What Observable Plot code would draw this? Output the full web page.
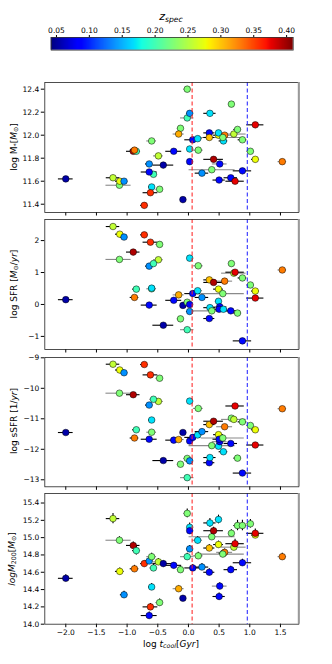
<!DOCTYPE html>
<html><head><meta charset="utf-8">
<script src="https://cdn.jsdelivr.net/npm/d3@7"></script>
<script src="https://cdn.jsdelivr.net/npm/@observablehq/plot@0.6"></script>
<style>
body{margin:0;background:#fff;font-family:"DejaVu Sans",sans-serif;}
#wrap{position:relative;width:332px;height:664px;overflow:hidden;background:#fff;}
#wrap svg{position:absolute;left:0;}
.lbl{position:absolute;font-size:9px;white-space:nowrap;color:#000;line-height:1;}
.lbl sub{font-size:0.7em;vertical-align:-0.3em;line-height:0;}
.rot{transform:translate(-50%,-50%) rotate(-90deg);}
.ctr{transform:translate(-50%,-50%);}
</style></head><body><div id="wrap"></div>
<script>
// ---- data (one entry per cluster) ----
const tcool = [-2.00,-1.23,-1.125,-1.12,-1.05,-0.90,-0.85,-0.88,-0.72,-0.64,-0.60,-0.49,-0.57,-0.41,-0.60,-0.62,-0.64,-0.47,
  -0.24,-0.13,-0.16,-0.09,-0.02,-0.02,0.02,0.02,0.02,0.07,0.15,0.16,0.22,0.34,0.34,0.35,0.38,0.41,0.49,0.49,0.51,0.50,
  0.57,0.59,0.56,0.69,0.70,0.74,0.76,0.80,0.88,0.88,1.01,1.09,1.09,1.53];
const zspec = [0.055,0.257,0.228,0.277,0.14,0.395,0.20,0.329,0.359,0.14,0.228,0.257,0.20,0.055,0.169,0.359,0.09,0.228,
  0.09,0.228,0.31,0.055,0.228,0.20,0.169,0.09,0.14,0.09,0.169,0.228,0.14,0.09,0.302,0.169,0.228,0.395,0.277,0.169,0.09,0.09,
  0.169,0.329,0.228,0.09,0.228,0.257,0.377,0.228,0.228,0.09,0.228,0.277,0.377,0.329];
const tcoolErrLo = [0.12,0.11,0.22,0.07,0.06,0.11,0.06,0.07,0.06,0.06,0.08,0.08,0.06,0.17,0.05,0.12,0.13,0.06,
  0.13,0.05,0.09,0.03,0.05,0.11,0.03,0.03,0.05,0.13,0.08,0.08,0.11,0.09,0.09,0.10,0.37,0.16,0.08,0.05,0.12,0.10,
  0.07,0.13,0.35,0.11,0.04,0.20,0.15,0.06,0.07,0.15,0.06,0.06,0.14,0.07];
const tcoolErrHi = [0.12,0.11,0.19,0.07,0.06,0.11,0.06,0.07,0.06,0.06,0.08,0.08,0.06,0.17,0.05,0.12,0.13,0.06,
  0.13,0.05,0.09,0.03,0.05,0.11,0.03,0.03,0.05,0.13,0.08,0.08,0.11,0.09,0.09,0.10,0.38,0.16,0.08,0.05,0.12,0.10,
  0.07,0.13,0.35,0.11,0.04,0.20,0.15,0.06,0.07,0.15,0.06,0.06,0.14,0.07];
const errGray = [0,0,1,0,0,0,0,0,0,0,1,1,1,0,0,0,0,1,
  0,0,1,0,0,1,0,0,0,0,1,1,0,0,0,0,1,0,0,0,1,0,
  0,1,1,0,0,1,0,0,0,0,1,0,0,1];
const logMstar = [11.62,11.63,11.565,11.60,11.60,11.86,11.86,11.87,11.39,11.75,11.95,11.82,11.66,11.74,11.55,11.50,11.68,11.53,
  11.86,12.06,12.01,11.44,12.40,12.15,11.88,11.77,12.19,11.96,11.97,11.87,11.67,12.02,11.98,12.19,11.70,11.79,12.00,12.02,11.75,11.61,
  11.95,12.00,11.98,11.63,12.27,12.01,11.60,12.05,11.96,11.69,11.86,11.79,12.09,11.77];
const logSFR = [0.15,2.44,1.41,2.20,2.11,1.64,0.48,0.22,2.18,1.20,0.49,1.40,1.28,-0.65,0.51,1.95,-0.02,1.88,
  0.13,-0.45,0.30,-0.03,0.07,-0.79,1.45,0.00,-0.22,0.34,0.43,1.21,0.22,-0.44,0.77,-0.10,-0.20,0.69,0.48,0.10,-0.07,-0.15,
  -0.15,0.73,0.34,-0.20,1.28,0.98,1.01,-0.27,0.83,-1.14,0.61,0.42,0.20,1.08];
const logsSFR = [-11.45,-9.21,-10.16,-9.40,-9.49,-10.21,-11.36,-11.63,-9.22,-10.55,-11.44,-10.43,-10.36,-12.37,-11.04,-9.56,-11.67,-9.67,
  -11.70,-12.49,-11.68,-11.45,-12.30,-12.93,-10.42,-11.73,-12.38,-11.61,-11.53,-10.66,-11.42,-12.44,-11.19,-12.27,-11.88,-11.08,-11.52,-11.90,-11.75,-11.67,
  -12.08,-11.26,-11.63,-11.81,-10.98,-11.02,-10.58,-12.29,-11.10,-12.78,-11.22,-11.36,-11.86,-10.67];
const logM200 = [14.53,15.22,14.97,14.61,14.34,14.91,14.85,14.64,14.70,14.73,14.78,14.72,14.65,14.70,14.43,14.20,14.10,14.25,
  14.68,14.63,14.41,14.30,15.28,14.78,15.12,15.08,14.87,14.65,14.97,14.79,14.66,14.60,14.88,15.17,15.01,15.08,14.92,15.21,14.44,14.32,
  14.82,14.83,14.81,14.63,15.05,14.89,14.93,15.14,15.14,14.71,15.16,15.03,15.05,14.78];
const logM200Err = [0.04,0.06,0.04,0.04,0.04,0.04,0.05,0.04,0.03,0.04,0.04,0.04,0.04,0.03,0.04,0.04,0.04,0.04,
  0.03,0.04,0.03,0.03,0.05,0.04,0.05,0.04,0.04,0.04,0.04,0.04,0.04,0.04,0.04,0.05,0.04,0.04,0.04,0.05,0.04,0.04,
  0.04,0.04,0.04,0.04,0.04,0.04,0.05,0.06,0.06,0.04,0.05,0.04,0.05,0.04];
const cuts = [0.06, 0.96];           // red, blue dashed lines (log t_cool)
const xTicks = [-2.0,-1.5,-1.0,-0.5,0.0,0.5,1.0,1.5];
const mstarTicks = [11.4,11.6,11.8,12.0,12.2,12.4];
const sfrTicks = [-1,0,1,2];
const ssfrTicks = [-13,-12,-11,-10,-9];
const m200Ticks = [14.0,14.2,14.4,14.6,14.8,15.0,15.2,15.4];
const zTicks = [0.05,0.10,0.15,0.20,0.25,0.30,0.35,0.40];

const xDomain = [-2.342, 1.799];
const zDomain = [0.042, 0.41];

function jet(t){
  t = Math.max(0, Math.min(1, t));
  const seg = (p) => { for (let i=1;i<p.length;i++) if (t<=p[i][0]) { const a=p[i-1], b=p[i]; return a[1]+(b[1]-a[1])*(t-a[0])/(b[0]-a[0]); } return p[p.length-1][1]; };
  const r = seg([[0,0],[0.35,0],[0.66,1],[0.89,1],[1,0.5]]);
  const g = seg([[0,0],[0.125,0],[0.375,1],[0.64,1],[0.91,0],[1,0]]);
  const b = seg([[0,0.5],[0.11,1],[0.34,1],[0.65,0],[1,0]]);
  return `rgb(${Math.round(r*255)},${Math.round(g*255)},${Math.round(b*255)})`;
}
const colorOpt = {type:"linear", domain: zDomain, interpolate: jet};
const wrap = document.getElementById("wrap");
const fmt1 = d3.format(".1f");

function panel(yVals, yDomain, yTicks, yFmt, frameTop, frameH, bottom, yErr){
  const mt = 6, mb = bottom ? 40 : 6;
  const data = tcool.map((x,i) => ({x, z: zspec[i], lo: tcoolErrLo[i], hi: tcoolErrHi[i], g: errGray[i], y: yVals[i], e: yErr ? yErr[i] : 0}));
  const marks = [
    Plot.ruleY(data.filter(d=>d.g), {y:"y", x1: d=>d.x-d.lo, x2: d=>d.x+d.hi, stroke:"#8a8a8a", strokeWidth:1.1}),
    Plot.ruleY(data.filter(d=>!d.g), {y:"y", x1: d=>d.x-d.lo, x2: d=>d.x+d.hi, stroke:"#000", strokeWidth:1.1})
  ];
  if (yErr) marks.push(Plot.ruleX(data, {x:"x", y1: d=>d.y-d.e, y2: d=>d.y+d.e, stroke:"#000", strokeWidth:1.1}));
  marks.push(Plot.dot(data, {x:"x", y:"y", fill:"z", r:3.3, stroke:"#000", strokeWidth:0.5}));
  marks.push(Plot.ruleX([cuts[0]], {stroke:"#ff2020", strokeOpacity:0.85, strokeWidth:1.2, strokeDasharray:"4,2.5"}));
  marks.push(Plot.ruleX([cuts[1]], {stroke:"#2020ff", strokeOpacity:0.85, strokeWidth:1.2, strokeDasharray:"4,2.5"}));
  marks.push(Plot.frame({stroke:"#222", strokeWidth:0.8}));
  marks.push(Plot.ruleX([xDomain[1]], {stroke:"#9a9a9a", strokeWidth:2}));
  const svg = Plot.plot({
    width: 332, height: mt + frameH + mb,
    marginTop: mt, marginBottom: mb, marginLeft: 44.3, marginRight: 33.7,
    x: {domain: xDomain, ticks: xTicks, tickFormat: bottom ? fmt1 : () => "", tickSize: 3.5, tickPadding: 2, label: null},
    y: {domain: yDomain, ticks: yTicks, tickFormat: yFmt, tickSize: 3.5, tickPadding: 2, label: null},
    color: colorOpt,
    style: {fontSize: "7.5px", fontFamily: "DejaVu Sans", background: "transparent", overflow: "visible"},
    marks
  });
  svg.style.top = (frameTop - mt) + "px";
  wrap.appendChild(svg);
}

panel(logMstar, [11.328, 12.458], mstarTicks, fmt1, 82.3, 130, false);
panel(logSFR, [-1.41, 2.66], sfrTicks, d3.format("d"), 219, 130, false);
panel(logsSFR, [-13.23, -8.99], ssfrTicks, d3.format("d"), 356.7, 129.3, false);
panel(logM200, [14.0, 15.51], m200Ticks, fmt1, 493.3, 130.7, true, logM200Err);

// colorbar
const nStep = 240, step = (zDomain[1]-zDomain[0])/nStep;
const cells = d3.range(nStep).map(i => zDomain[0] + i*step);
const cb = Plot.plot({
  width: 332, height: 34, marginTop: 20, marginBottom: 1.4, marginLeft: 50.7, marginRight: 39.3,
  x: {domain: zDomain, axis: "top", ticks: zTicks, tickFormat: d3.format(".2f"), tickSize: 3, tickPadding: 1.5, label: null},
  y: {domain: [0,1], axis: null},
  color: colorOpt,
  style: {fontSize: "7.5px", fontFamily: "DejaVu Sans", background: "transparent", overflow: "visible"},
  marks: [
    Plot.rect(cells, {x1: d=>d, x2: d=>Math.min(d+1.6*step, zDomain[1]), y1: 0, y2: 1, fill: d=>d+step/2}),
    Plot.frame({stroke:"#333", strokeWidth:0.8})
  ]
});
cb.style.top = (36.7 - 20) + "px";
wrap.appendChild(cb);

// text labels
function label(html, x, y, cls, size){
  const s = document.createElement("span");
  s.className = "lbl " + cls;
  s.innerHTML = html;
  s.style.left = x + "px"; s.style.top = y + "px";
  if (size) s.style.fontSize = size + "px";
  wrap.appendChild(s);
}
label("<i>z</i><sub><i>spec</i></sub>", 171, 16, "ctr", 11);
label("log M<sub>*</sub>[<i>M</i><sub>⊙</sub>]", 14, 147.3, "rot");
label("log SFR [<i>M</i><sub>⊙</sub>/<i>yr</i>]", 14, 284, "rot");
label("log sSFR [1/<i>yr</i>]", 14, 421.3, "rot");
label("<i>logM</i><sub>200</sub>[<i>M</i><sub>⊙</sub>]", 12, 558.6, "rot");
label("log <i>t</i><sub><i>cool</i></sub>[<i>Gyr</i>]", 171, 644, "ctr");
</script></body></html>
